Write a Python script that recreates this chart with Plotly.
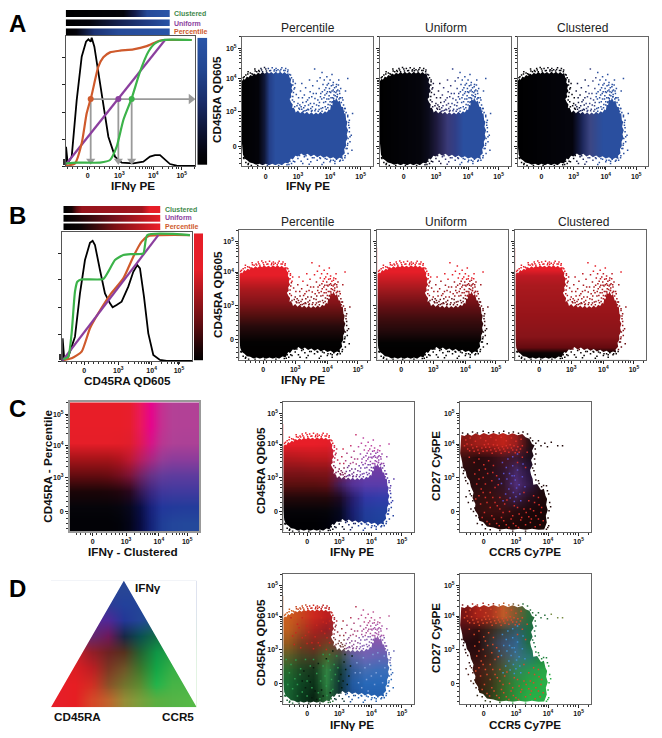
import base64, struct, zlib
import plotly.graph_objects as go

W, H = 662, 738
FONT = "Liberation Sans"

# ---------------- axis scale (biexponential display units) ----------------
TICK_TEXT = ["<b>0</b>", "<b>10<sup>3</sup></b>", "<b>10<sup>4</sup></b>", "<b>10<sup>5</sup></b>"]
SCAT_X_TICKS = [2.0, 3.0, 4.0, 4.95]
SCAT_Y_TICKS = [1.97, 3.0, 4.0, 4.9]
SCAT_X_RANGE = [1.26, 5.32]
SCAT_Y_RANGE = [1.37, 5.25]
MINOR_VALUES = [1.45, 1.6, 1.75, 1.9, 2.1, 2.25, 2.4, 2.55, 2.7, 2.8, 2.9,
                3.3, 3.48, 3.6, 3.7, 3.78, 3.85, 3.9, 3.95,
                4.3, 4.48, 4.6, 4.7, 4.78, 4.85, 5.25]

# ---------------- tone curves, panel A ----------------
A_PCT_X = [1.39, 1.67, 1.87, 2.02, 2.17, 2.37, 2.52, 2.72, 3.02, 3.42, 3.82, 4.12, 4.32, 5.17]
A_PCT_Y = [0, 2, 17.4, 40.4, 54.5, 76.2, 83.4, 87.2, 88.5, 89.5, 92, 95.4, 96.7, 96.7]
A_UNI_X = [1.39, 4.37]
A_UNI_Y = [1, 96.7]
A_CLU_X = [1.39, 1.72, 2.42, 2.72, 2.92, 3.12, 3.37, 3.62, 3.87, 4.07, 4.32, 5.17]
A_CLU_Y = [2, 2.6, 2.6, 4.6, 14.8, 35.3, 51.9, 72.4, 87.7, 94.1, 96.7, 96.7]
A_HIST_X = [1.39, 1.40, 1.45, 1.57, 1.72, 1.87, 2.0, 2.07, 2.14, 2.17, 2.25, 2.37, 2.52, 2.67,
            2.87, 3.07, 3.42, 3.72, 3.92, 4.07, 4.22, 4.37, 4.52, 4.72, 5.27]
A_HIST_Y = [0.8, 14.8, 2, 7.2, 50.6, 83.9, 95.4, 97.2, 95.4, 98.5, 91.6, 72.4, 45.5, 22.5,
            7.2, 2.6, 2, 3.3, 7.2, 8.4, 8.4, 4.6, 1.5, 0.3, 0]
A_GUIDE_X = [2.14, 2.97, 3.37]
A_GUIDE_Y = 51.4
A_GUIDE_COLORS = ["#cf5a2c", "#8b3f9e", "#3cb34a"]

# ---------------- tone curves, panel B ----------------
B_PCT_X = [1.35, 1.6, 1.9, 2.15, 2.4, 2.75, 3.15, 3.45, 3.7, 3.9, 5.15]
B_PCT_Y = [0.8, 2.1, 7.2, 25.3, 36.9, 51, 63.9, 80.7, 92.3, 96.6, 97.4]
B_UNI_X = [1.32, 4.2]
B_UNI_Y = [0, 97.4]
B_CLU_X = [1.35, 1.5, 1.6, 1.7, 1.77, 1.9, 2.55, 2.7, 2.9, 3.15, 3.4, 3.75, 3.87, 5.15]
B_CLU_Y = [1.3, 3.4, 21.4, 53.6, 61.3, 63.1, 63.4, 69.1, 78.1, 82, 82.7, 83.2, 97.4, 97.4]
B_HIST_X = [1.32, 1.33, 1.38, 1.5, 1.7, 1.85, 2.0, 2.15, 2.23, 2.3, 2.45, 2.6, 2.75, 2.83, 2.95,
            3.1, 3.3, 3.45, 3.57, 3.65, 3.77, 3.9, 4.05, 4.25, 4.45, 5.22]
B_HIST_Y = [0, 17.5, 0.8, 3.4, 18.8, 52.3, 78.1, 91.5, 93, 89.7, 70.4, 52.3, 44.6, 41.5, 43.3,
            45.9, 57.5, 69, 74.2, 71.6, 49.7, 21.4, 4.6, 0.8, 0, 0]

# ---------------- colour maps: (position, colour) ----------------
BLUE = "#2a4f9f"
A_MAP_PCT = [(1.2, "#000000"), (1.75, "#03030a"), (1.95, "#10183a"), (2.1, "#243f88"), (2.3, BLUE), (4.58, BLUE), (4.6, BLUE)]
A_MAP_UNI = [(1.2, "#000000"), (2.5, "#05050c"), (2.75, "#0c0c1c"), (3.0, "#1e1a3e"), (3.33, "#3a3a78"),
             (3.6, "#303f88"), (3.85, BLUE), (4.58, BLUE), (4.6, BLUE)]
A_MAP_CLU = [(1.2, "#000000"), (2.95, "#04040c"), (3.15, "#141a40"), (3.28, "#202a60"), (3.49, "#3c4684"),
             (3.9, BLUE), (4.58, BLUE), (4.6, BLUE)]
RED = "#e61e28"
B_MAP_PCT = [(1.4, "#000000"), (1.42, "#000000"), (1.9, "#030202"), (2.38, "#280a0c"), (2.68, "#500f0f"), (3.08, "#821419"),
             (3.5, "#aa191e"), (3.93, RED), (4.5, RED)]
B_MAP_UNI = [(1.4, "#000000"), (1.42, "#000000"), (1.9, "#030202"), (2.18, "#1e080a"), (2.58, "#3c0c0e"), (2.98, "#640f14"),
             (3.48, "#a0191e"), (4.03, RED), (4.5, RED)]
B_MAP_CLU = [(1.4, "#000000"), (1.42, "#000000"), (1.58, "#0c0404"), (1.73, "#640a0f"), (2.08, "#871419"), (2.68, "#961419"),
             (3.6, "#aa191e"), (3.9, "#be1923"), (4.08, RED), (4.5, RED)]

STRIP_A_CLU = [(0, "#000000"), (0.55, "#04040a"), (0.66, "#141c4c"), (0.78, "#264a98"), (1, "#2a55a8")]
STRIP_A_UNI = [(0, "#000000"), (0.22, "#04040c"), (0.5, "#14204e"), (0.75, "#203a80"), (1, "#2a55a8")]
STRIP_A_PCT = [(0, "#000000"), (0.1, "#04040c"), (0.27, "#1c3272"), (0.5, "#264a98"), (1, "#2a55a8")]
STRIP_B_CLU = [(0, "#000000"), (0.08, "#140404"), (0.13, "#640e12"), (0.18, "#96141c"), (0.8, "#a0161e"), (0.88, "#e61e28"), (1, "#e61e28")]
STRIP_B_UNI = [(0, "#000000"), (0.1, "#100404"), (0.5, "#70101a"), (0.8, "#b81820"), (1, "#e61e28")]
STRIP_B_PCT = [(0, "#000000"), (0.17, "#0c0404"), (0.34, "#3c0a0c"), (0.51, "#781014"), (0.72, "#aa161c"), (0.96, "#e61e28"), (1, "#e61e28")]
BAR_A = [(0, "#000000"), (0.1, "#04040c"), (0.25, "#0c1230"), (0.5, "#192c68"), (0.75, "#234690"), (1, "#2a55a8")]
BAR_B = [(0, "#000000"), (0.1, "#1a0405"), (0.3, "#640e12"), (0.5, "#a0161c"), (0.72, "#e61e28"), (1, "#e61e28")]

# ---------------- 2-D colour fields (rows top to bottom) ----------------
HEAT_C = [
 "232,30,40 232,30,40 232,30,40 232,30,40 232,30,40 232,30,45 235,25,90 230,5,140 195,50,145 180,65,150 178,65,150 178,65,150",
 "232,30,40 232,30,40 232,30,40 232,30,40 232,30,40 232,30,45 235,25,90 230,5,140 195,50,145 180,65,150 178,65,150 178,65,150",
 "230,30,40 230,30,40 230,30,40 230,30,40 228,30,40 225,30,45 225,25,85 215,20,135 185,55,145 175,65,150 172,65,150 172,65,150",
 "165,20,25 165,20,25 165,20,25 165,20,25 175,20,30 190,25,50 185,30,95 170,40,130 150,60,150 140,60,155 140,60,155 140,60,155",
 "100,12,16 100,12,16 100,12,16 105,12,18 115,15,30 125,20,55 115,35,100 105,50,135 100,60,155 95,60,158 95,60,158 95,60,158",
 "28,6,8 28,6,8 28,6,8 30,6,10 35,6,14 42,8,30 55,25,85 60,40,130 65,55,155 65,58,158 65,58,158 65,58,158",
 "6,5,10 6,5,10 6,5,10 6,5,10 7,6,15 8,8,30 10,15,70 25,35,125 35,55,155 35,58,155 35,60,155 35,60,155",
 "2,2,6 2,2,6 2,2,6 2,2,6 2,3,10 4,5,25 8,12,65 20,35,120 32,62,150 35,70,155 35,72,155 35,72,155",
]
TRI_D = [
 "40,70,150 40,70,150 40,70,150 40,70,150 40,70,150 40,70,150 40,70,150 40,70,150 40,70,150",
 "40,60,150 40,60,150 40,60,150 45,60,150 35,65,155 35,68,152 35,70,150 35,70,150 35,70,150",
 "90,40,150 90,40,150 85,42,150 80,40,150 35,55,150 35,70,150 30,85,130 30,90,120 30,90,120",
 "120,30,100 110,35,110 100,40,110 110,25,90 25,40,70 10,80,80 20,110,70 25,120,70 25,120,70",
 "200,35,45 200,35,45 150,30,40 110,35,35 85,50,30 35,100,50 15,150,70 40,160,70 50,165,70",
 "225,30,35 220,30,35 190,30,35 125,55,35 110,85,40 60,120,45 20,165,70 55,175,70 65,178,70",
 "230,30,40 230,30,35 210,45,35 140,80,40 115,115,45 90,140,50 35,180,75 70,180,70 75,180,70",
 "230,30,40 230,30,35 215,70,40 190,100,45 150,140,55 120,160,60 90,175,65 85,180,70 85,185,70",
]
C_IFN = [
 "235,30,40 235,30,40 235,30,40 235,30,40 212,40,70 200,50,110 190,70,160 190,70,160 190,70,160",
 "232,30,40 232,30,40 232,30,40 228,30,40 210,40,70 200,50,110 190,70,160 190,70,160 190,70,160",
 "180,25,30 185,25,30 190,25,30 190,25,30 190,40,80 170,60,130 150,70,170 150,70,170 150,70,170",
 "130,20,25 130,20,25 135,20,25 135,20,25 130,30,80 110,50,140 110,60,165 110,60,165 110,60,165",
 "90,15,15 90,15,15 90,15,15 95,15,20 70,30,90 85,50,150 90,60,170 90,60,170 90,60,170",
 "35,8,10 35,8,10 35,8,10 35,8,10 30,10,35 40,30,110 50,55,165 50,60,170 50,60,170",
 "6,4,8 6,4,8 6,4,8 6,5,10 6,8,30 25,30,110 35,60,155 35,65,160 35,65,160",
 "0,0,3 0,0,3 0,0,3 0,0,8 3,5,30 20,30,100 30,60,150 30,65,155 30,65,155",
]
C_CCR = [
 "130,25,20 160,30,25 170,30,25 190,35,25 150,30,30 40,15,20 30,10,12 30,10,12 30,10,12",
 "130,25,20 160,30,25 170,30,25 190,35,25 150,30,30 40,15,20 30,10,12 30,10,12 30,10,12",
 "60,15,15 40,10,12 50,12,18 70,20,30 60,25,50 30,15,30 30,10,12 30,10,12 30,10,12",
 "40,12,14 40,12,14 40,14,20 50,20,45 70,40,100 40,20,60 30,10,14 30,10,12 30,10,12",
 "40,12,14 40,12,14 45,14,20 50,20,40 80,45,120 50,25,70 30,10,15 30,10,12 30,10,12",
 "50,15,15 50,15,15 55,15,15 60,20,30 60,30,70 40,15,30 30,8,10 30,8,10 30,8,10",
 "50,15,15 50,15,15 60,15,15 60,15,18 40,12,15 30,8,10 25,6,8 25,6,8 25,6,8",
 "35,10,10 35,10,10 35,10,10 30,8,8 30,8,8 25,7,7 25,7,7 25,7,7 25,7,7",
]
D_IFN = [
 "205,95,30 200,70,30 205,40,30 190,30,30 170,40,50 180,50,80 190,80,140 190,90,150 190,90,150",
 "205,95,30 200,70,30 205,40,30 190,30,30 170,40,50 180,50,80 190,80,140 190,90,150 190,90,150",
 "190,95,30 170,65,30 170,35,30 150,30,35 150,50,60 170,70,120 170,80,150 170,90,170 170,90,170",
 "150,90,30 120,60,30 130,40,30 120,60,35 120,60,60 140,80,150 130,90,175 130,90,175 130,90,175",
 "90,95,40 70,70,35 70,60,35 70,100,45 60,80,60 90,100,160 110,100,180 100,100,180 100,100,180",
 "40,105,45 30,70,35 25,55,30 50,130,65 20,60,50 50,90,150 70,110,180 60,110,185 60,110,185",
 "25,105,50 15,70,35 12,50,25 45,130,65 15,50,50 35,90,160 40,105,185 40,105,185 40,105,185",
 "25,100,50 12,60,30 8,35,18 40,110,55 15,50,50 30,80,150 35,95,175 35,95,175 35,95,175",
]
D_CCR = [
 "120,20,20 170,35,25 170,50,30 190,90,40 120,90,50 40,110,60 40,110,60 120,140,70 120,140,70",
 "120,20,20 170,35,25 170,50,30 190,90,40 120,90,50 40,110,60 40,110,60 120,140,70 120,140,70",
 "70,15,20 50,15,15 60,40,30 60,70,60 50,90,100 30,110,70 30,110,70 30,110,70 30,110,70",
 "40,10,15 35,10,12 55,50,50 60,80,110 50,100,140 30,110,70 30,120,70 30,120,70 30,120,70",
 "50,15,15 50,15,15 60,40,30 70,80,80 60,110,130 40,120,110 30,130,60 30,130,60 30,130,60",
 "70,25,20 70,25,20 70,50,30 70,90,50 50,130,90 40,150,80 40,165,70 40,170,70 40,170,70",
 "60,25,15 60,25,15 60,50,25 60,100,40 45,140,60 40,165,65 40,175,70 40,175,70 40,175,70",
 "40,30,15 40,30,15 50,60,25 50,110,40 40,150,60 40,175,70 40,175,70 40,175,70 40,175,70",
]

# ---------------- population outlines ----------------
IFN_OUTLINE = [
 (1.26,3.92),(1.31,3.99),(1.35,3.96),(1.41,4.06),(1.46,4.03),(1.52,4.1),(1.58,4.07),(1.64,4.15),(1.7,4.11),(1.76,4.17),
 (1.83,4.13),(1.9,4.19),(1.97,4.14),(2.03,4.2),(2.1,4.15),(2.17,4.19),(2.24,4.14),(2.31,4.2),(2.38,4.15),(2.45,4.2),
 (2.52,4.14),(2.58,4.19),(2.65,4.13),(2.7,4.16),(2.74,4.03),(2.79,3.98),(2.77,3.88),(2.83,3.8),(2.8,3.7),(2.84,3.62),
 (2.78,3.54),(2.8,3.44),(2.74,3.38),(2.79,3.28),(2.84,3.22),(2.82,3.12),(2.9,3.08),(2.93,2.98),(3.0,3.04),(3.07,2.96),
 (3.14,3.02),(3.21,2.94),(3.28,3.0),(3.35,2.93),(3.42,2.99),(3.49,2.92),(3.56,2.98),(3.63,2.93),(3.7,3.0),(3.77,2.94),
 (3.84,3.02),(3.9,2.98),(3.96,3.08),(4.0,3.05),(4.03,3.2),(4.07,3.18),(4.1,3.38),(4.16,3.34),(4.19,3.42),(4.25,3.3),
 (4.3,3.34),(4.35,3.15),(4.4,3.14),(4.44,2.95),(4.48,2.96),(4.5,2.75),(4.54,2.7),(4.51,2.55),(4.56,2.45),(4.52,2.33),
 (4.55,2.22),(4.49,2.1),(4.5,1.98),(4.44,1.88),(4.46,1.76),(4.38,1.68),(4.4,1.58),(4.3,1.62),(4.2,1.57),(4.1,1.64),
 (4.0,1.6),(3.9,1.67),(3.8,1.62),(3.7,1.69),(3.6,1.64),(3.5,1.71),(3.4,1.66),(3.3,1.74),(3.2,1.68),(3.1,1.75),
 (3.0,1.66),(2.92,1.68),(2.84,1.57),(2.78,1.6),(2.7,1.45),(2.6,1.47),(2.5,1.4),(2.4,1.44),(2.3,1.4),(2.2,1.44),
 (2.1,1.4),(2.0,1.44),(1.9,1.4),(1.8,1.44),(1.7,1.41),(1.6,1.46),(1.5,1.48),(1.42,1.55),(1.34,1.6),(1.29,1.72),(1.26,2.05)]
CCR_OUTLINE = [
 (1.27,3.72),(1.28,3.95),(1.3,4.27),(1.4,4.24),(1.5,4.3),(1.62,4.25),(1.75,4.32),(1.87,4.26),(2.0,4.33),(2.15,4.27),
 (2.3,4.33),(2.45,4.28),(2.6,4.33),(2.75,4.27),(2.9,4.32),(3.05,4.26),(3.2,4.3),(3.3,4.2),(3.42,4.16),(3.5,4.0),
 (3.58,3.96),(3.5,3.8),(3.55,3.65),(3.47,3.52),(3.52,3.38),(3.44,3.22),(3.47,3.08),(3.52,2.96),(3.54,2.78),(3.66,2.8),
 (3.78,2.62),(3.87,2.66),(3.92,2.45),(3.97,2.35),(3.94,2.18),(3.99,2.02),(3.93,1.85),(3.96,1.65),(3.88,1.44),(3.7,1.43),
 (3.5,1.46),(3.3,1.43),(3.1,1.46),(2.9,1.43),(2.7,1.46),(2.5,1.44),(2.3,1.5),(2.1,1.53),(1.98,1.66),(1.86,1.7),
 (1.82,1.88),(1.72,2.02),(1.74,2.2),(1.65,2.38),(1.68,2.55),(1.6,2.72),(1.56,2.9),(1.47,3.02),(1.44,3.18),(1.35,3.3),(1.33,3.45)]
TRI_OUTLINE = [(0, 0), (0.5, 1), (1, 0)]

# ---------------- individually visible events ----------------
IFN_EVENTS = [
 (2.85,3.95),(2.9,3.72),(2.95,3.52),(2.88,3.3),(2.97,3.18),(3.02,3.42),(3.05,3.08),(3.08,3.62),(3.12,3.85),(3.15,3.28),
 (3.18,3.12),(3.2,3.5),(3.24,3.72),(3.27,3.05),(3.3,3.35),(3.33,3.2),(3.36,3.95),(3.38,3.6),(3.4,3.1),(3.43,3.45),
 (3.46,3.78),(3.5,3.25),(3.52,4.28),(3.55,3.08),(3.57,3.55),(3.6,3.92),(3.62,3.35),(3.65,3.18),(3.66,3.7),(3.69,4.02),
 (3.7,3.45),(3.72,3.1),(3.75,4.18),(3.76,3.6),(3.78,3.82),(3.8,3.28),(3.82,3.95),(3.84,3.5),(3.85,3.15),(3.87,3.72),
 (3.9,4.05),(3.9,3.38),(3.92,3.6),(3.94,3.22),(3.95,3.85),(3.97,3.48),(3.98,3.7),(4.0,3.95),(4.0,3.3),(4.02,3.58),
 (4.04,3.78),(4.05,3.18),(4.06,4.12),(4.08,3.42),(4.1,3.65),(4.1,3.88),(4.12,3.5),(4.14,3.72),(4.15,3.3),(4.18,3.58),
 (4.2,3.82),(4.22,3.45),(4.24,3.65),(4.27,3.95),(4.28,3.38),(4.3,3.55),(4.33,3.7),(4.38,3.42),(4.42,3.2),(4.48,3.62),
 (4.55,4.0),(2.86,3.1),(2.92,3.85),(3.0,3.25),(3.06,3.2),(3.1,3.15),(3.14,3.42),(3.17,3.02),(3.22,3.18),(3.26,3.3),
 (3.31,3.08),(3.35,3.42),(3.39,3.25),(3.42,3.02),(3.45,3.15),(3.48,3.55),(3.53,3.4),(3.58,3.2),(3.63,3.02),(3.67,3.28),
 (3.71,3.55),(3.74,3.38),(3.77,3.12),(3.81,3.42),(3.83,3.65),(3.86,3.3),(3.89,3.55),(3.91,3.8),(3.93,3.12),(3.96,3.38),
 (3.99,3.6),(4.03,3.42),(4.06,3.62),(4.07,3.3),(4.09,3.8),(4.11,3.4),(4.13,3.6),(4.16,3.48),(4.19,3.75),(4.21,3.62),
 (4.23,3.52),(4.26,3.8),(4.29,3.62),(4.31,3.42),(4.35,3.28),(4.37,3.12),(4.4,3.35),(4.43,3.02),(4.47,3.1),(4.5,2.98),
 (1.3,4.02),(1.38,4.1),(1.45,4.2),(1.52,4.16),(1.6,4.12),(1.66,4.28),(1.72,4.2),(1.78,4.24),(1.85,4.3),(1.9,4.2),
 (1.96,4.33),(2.02,4.22),(2.08,4.3),(2.15,4.24),(2.2,4.32),(2.26,4.22),(2.32,4.3),(2.38,4.26),(2.44,4.22),(2.5,4.32),
 (2.56,4.24),(2.62,4.3),(2.68,4.2),(2.74,4.12),(2.8,4.02),(2.84,3.8),(2.86,3.58),
 (4.55,2.9),(4.58,2.6),(4.6,2.4),(4.56,2.2),(4.62,2.1),(4.54,2.0),(4.5,1.9),(4.56,1.75),(4.46,1.62),(4.6,2.75),
 (4.66,2.3),(4.68,1.85),(4.7,2.95),
 (4.4,1.55),(4.3,1.52),(4.2,1.58),(4.1,1.55),(4.0,1.5),(3.9,1.58),(3.8,1.48),(3.7,1.6),(3.6,1.55),(3.5,1.62),(3.4,1.5),
 (3.3,1.58),(3.2,1.65),(3.1,1.52),(3.0,1.6),(2.9,1.5),(2.8,1.45),(2.75,1.52),(2.72,1.42),(3.15,1.45),(3.35,1.43),(3.75,1.42),
 (4.15,1.45),(1.32,1.6),(1.38,1.48),(1.45,1.42),(1.55,1.39),
 (1.33,4.05),(1.44,4.13),(1.57,4.14),(1.67,4.22),(1.8,4.21),(1.87,4.25),(2.0,4.28),(2.12,4.23),(2.27,4.26),(2.33,4.23),
 (2.47,4.27),(2.6,4.24),(2.69,4.25),(2.77,4.1),(2.85,3.9),(2.88,3.68),(2.84,3.46),(2.83,3.35),(2.9,3.15),(3.03,3.11),
 (3.12,3.08),(3.22,3.03),(3.33,3.06),(3.44,3.04),(3.53,3.03),(3.66,3.07),(3.75,3.02),(3.88,3.08),(4.0,3.2),(4.06,3.28),
 (4.22,3.45),(4.32,3.42),(4.45,3.1),(4.55,2.85),(4.58,2.68),(4.6,2.52),(4.62,2.25),(4.55,2.05),(4.53,1.9),(4.47,1.68),
 (4.32,1.55),(4.15,1.52),(4.02,1.55),(3.85,1.6),(3.68,1.62),(3.45,1.62),(3.25,1.68),(3.05,1.69),(2.86,1.52),(2.66,1.41),
 (2.4,1.39),(2.05,1.39),(1.75,1.39),(1.46,1.45),(1.31,1.62),
]
IFN_RED = [
 (1.5,3.95),(1.7,3.75),(1.85,3.95),(2.0,3.7),(2.15,3.9),(2.3,3.72),(2.45,3.95),(2.6,3.78),(1.65,3.5),(1.85,3.35),
 (2.05,3.52),(2.25,3.38),(2.45,3.55),(2.62,3.35),(1.6,3.15),(1.8,3.05),(2.0,3.18),(2.2,3.02),(2.4,3.12),(2.6,3.0),
 (2.7,3.2),(2.5,3.82),(2.7,3.62),(2.35,3.2),(2.15,3.2),(1.95,3.42),(1.75,3.65),(1.55,3.4),(2.7,3.85),(2.55,3.48),
]
IFN_GREEN = [
 (1.35,2.7),(1.5,2.55),(1.65,2.68),(1.8,2.42),(1.45,2.3),(1.62,2.12),(1.78,2.25),(1.4,1.95),(1.55,1.82),(1.7,1.95),
 (1.85,1.72),(2.0,2.05),(2.15,1.85),(2.3,2.28),(2.42,2.05),(2.5,2.5),(2.56,2.2),(2.6,1.9),(2.66,2.65),(2.72,2.38),
 (2.76,2.1),(2.8,1.8),(2.84,2.55),(2.88,2.25),(2.92,2.8),(2.96,2.45),(2.98,2.05),(2.7,2.85),(2.5,2.85),(2.35,1.7),
 (2.62,1.62),(2.1,2.5),(2.2,2.7),(1.95,2.7),(2.0,1.6),(1.7,1.6),(2.4,1.52),(2.75,1.75),
]
IFN_DARK = [
 (1.9,2.35),(2.05,2.2),(2.2,2.45),(2.35,2.58),(1.85,2.05),(2.1,2.02),(2.25,1.75),(2.45,1.78),(1.95,1.85),(2.15,1.55),
 (3.05,2.25),(3.12,2.05),(3.2,2.4),(3.25,1.95),(3.3,2.2),(3.08,1.85),(3.15,2.62),(3.35,2.5),(3.18,2.85),(3.4,2.8),
 (2.72,1.7),(2.5,1.6),(2.3,1.5),(2.6,2.72),(2.8,2.95),
]
IFN_PALE = [
 (3.55,2.6),(3.65,2.3),(3.75,2.75),(3.85,2.1),(3.95,2.55),(4.05,2.85),(4.15,2.3),(4.25,2.65),(4.35,2.0),(4.42,2.45),
 (3.6,2.0),(3.7,1.85),(3.8,2.45),(3.9,1.75),(4.0,2.2),(4.1,1.95),(4.2,2.9),(4.3,2.2),(4.4,2.8),(3.5,2.3),
]
CCR_EVENTS = [
 (3.62,4.02),(3.7,4.1),(3.78,3.95),(3.9,4.02),(3.98,3.92),(4.1,4.05),(4.3,3.95),(4.45,3.95),(3.62,3.7),(3.6,3.4),
 (3.56,3.2),(3.62,2.92),(3.72,2.82),(3.8,2.72),(3.95,2.75),(4.02,2.5),(4.05,2.25),(4.03,2.0),(4.0,1.78),(4.02,1.55),
 (3.95,1.45),(3.3,1.39),(2.9,1.39),(2.5,1.41),(2.2,1.43),(2.05,1.46),(1.95,1.58),(1.8,1.62),(1.76,1.85),(1.72,2.08),
 (1.6,2.05),(1.52,2.25),(1.62,2.45),(1.55,2.6),(1.5,2.82),(1.42,3.0),(1.38,3.2),(1.32,3.3),(1.45,2.42),(1.68,1.98),
 (1.34,4.33),(1.5,4.3),(1.65,4.36),(1.8,4.33),(1.98,4.38),(2.15,4.34),(2.3,4.37),(2.48,4.33),(2.62,4.38),(2.78,4.33),
 (2.92,4.36),(3.08,4.32),(3.22,4.36),(3.36,4.3),(3.45,4.18),(3.52,4.1),
 (3.6,3.85),(3.58,3.55),(3.52,3.28),(3.6,3.08),(3.7,2.9),(3.86,2.76),(3.98,2.6),(4.08,2.12),(3.99,1.5),(1.85,1.8),
 (1.66,2.3),(1.58,2.5),(1.44,2.9),(1.36,3.12),
]
CCR_RED = [
 (1.4,3.95),(1.5,3.85),(1.62,3.98),(1.7,3.78),(1.78,3.92),(1.86,3.72),(1.94,3.88),(2.02,3.98),(2.1,3.8),(2.18,3.9),
 (2.26,3.72),(2.34,3.86),(2.42,3.96),(2.5,3.82),(2.58,3.92),(2.66,3.78),(2.74,3.88),(2.82,3.98),(2.9,3.82),(2.98,3.74),
 (3.06,3.92),(3.14,3.85),(1.44,4.12),(1.58,4.18),(1.74,4.08),(1.9,4.18),(2.06,4.1),(2.22,4.2),(2.38,4.12),(2.54,4.2),
 (2.7,4.1),(2.86,4.18),(3.0,4.08),(3.16,4.14),(1.55,3.6),(1.7,3.45),(1.85,3.55),(2.0,3.38),(2.15,3.5),(2.3,3.36),
 (1.72,3.1),(1.86,3.22),(1.98,3.0),(2.12,3.12),(2.25,2.9),(2.4,3.05),(1.78,2.8),(1.92,2.65),(2.05,2.8),(2.2,2.55),
 (2.35,2.7),(2.5,2.4),(1.75,2.35),(1.9,2.2),(2.05,2.4),(2.2,2.1),(2.35,2.25),(2.5,2.05),(2.65,2.2),(2.8,1.98),
 (2.95,2.15),(3.1,1.9),(3.25,2.05),(3.4,1.82),(3.55,2.0),(3.7,1.75),(3.8,2.1),(1.95,1.8),(2.1,1.68),(2.25,1.85),
 (2.4,1.62),(2.55,1.8),(2.7,1.58),(2.85,1.75),(3.0,1.55),(3.15,1.72),(3.3,1.58),(3.45,1.65),(3.6,1.52),(3.75,1.58),
 (3.7,2.4),(3.55,2.45),(3.4,2.3),(3.25,2.55),(3.3,3.3),(3.2,3.6),(3.35,3.75),(3.05,3.45),
 (1.48,4.0),(1.56,3.8),(1.66,3.88),(1.82,3.82),(1.98,3.78),(2.06,3.9),(2.14,4.0),(2.22,3.82),(2.3,3.98),(2.38,3.78),
 (2.46,3.88),(2.54,3.72),(2.62,3.85),(2.7,3.95),(2.78,3.75),(2.86,3.88),(2.94,3.95),(3.02,3.82),(3.1,3.75),(3.2,3.95),
 (1.85,2.95),(2.05,3.25),(2.28,3.15),(2.45,2.78),(1.98,2.55),(1.85,2.45),(2.1,2.25),(2.28,2.4),(2.42,2.15),(2.6,1.95),
 (2.72,2.32),(2.9,1.85),(3.05,2.1),(3.18,1.8),(3.32,1.95),(3.48,1.75),(3.62,1.85),(3.78,1.95),(3.85,1.7),(3.72,2.18),
 (3.58,2.25),(3.45,2.05),(2.02,1.95),(2.18,1.6),(2.32,1.75),(2.48,1.55),(2.62,1.7),(2.78,1.5),(2.92,1.62),(3.08,1.5),
]
CCR_BLUE = [
 (2.7,3.3),(2.8,3.12),(2.9,3.35),(2.95,3.05),(3.05,3.22),(2.72,2.95),(2.85,2.82),(2.98,2.92),(3.1,2.78),(2.78,2.65),
 (2.92,2.55),(3.02,2.68),(3.12,2.5),(2.62,3.12),(2.55,2.82),(2.68,2.5),(2.82,2.38),(2.95,2.28),(3.2,3.02),(3.15,2.3),
 (2.58,3.45),(2.75,3.55),(2.9,3.62),(3.05,3.7),(3.22,3.4),(2.48,2.95),(2.6,2.3),(3.28,2.72),(2.88,3.05),(3.0,2.42),
]

# ---------------- labels ----------------
TITLES = ["Percentile", "Uniform", "Clustered"]
CURVE_COLORS = {"Clustered": "#3f8a4c", "Uniform": "#8b3f9e", "Percentile": "#cf5a2c"}
CURVE_LINES = {"Clustered": "#3cb34a", "Uniform": "#8b3f9e", "Percentile": "#cf5a2c"}

fig = go.Figure()
layout_axes = {}
images = []
annots = []
n_axes = 0


def parse(rows):
    return [[tuple(int(v) for v in cell.split(",")) for cell in row.split()] for row in rows]


def png_uri(cells):
    h, w = len(cells), len(cells[0])
    raw = b"".join(b"\x00" + bytes(v for px in row for v in px) for row in cells)
    def chunk(tag, data):
        return struct.pack(">I", len(data)) + tag + data + struct.pack(">I", zlib.crc32(tag + data) & 0xffffffff)
    png = b"\x89PNG\r\n\x1a\n" + chunk(b"IHDR", struct.pack(">IIBBBBB", w, h, 8, 2, 0, 0, 0)) + \
        chunk(b"IDAT", zlib.compress(raw)) + chunk(b"IEND", b"")
    return "data:image/png;base64," + base64.b64encode(png).decode()


def axes(x0, x1, y0, y1, xr, yr, xt=None, yt=None, ylabels=True, xlabels=True, frame="#666666", width=1, visible=True):
    global n_axes
    n_axes += 1
    i = n_axes
    def one(rng, ticks, labels, dom, anchor):
        ax = dict(domain=dom, range=rng, anchor=anchor, fixedrange=True, showgrid=False, zeroline=False,
                  visible=visible, showline=visible, mirror=visible, linecolor=frame, linewidth=width)
        if ticks is not None:
            ax.update(tickmode="array", tickvals=ticks, ticks="outside", ticklen=3, tickwidth=1, tickcolor="#222222",
                      minor=dict(tickmode="array", tickvals=MINOR_VALUES, ticks="outside", ticklen=2,
                                 tickwidth=0.7, tickcolor="#333333", showgrid=False))
            if labels:
                ax.update(ticktext=TICK_TEXT, tickfont=dict(family=FONT, size=7, color="#111111"))
            else:
                ax.update(showticklabels=False)
        else:
            ax.update(ticks="", showticklabels=False)
        return ax
    layout_axes[f"xaxis{i}"] = one(xr, xt, xlabels, [x0 / W, x1 / W], f"y{i}")
    layout_axes[f"yaxis{i}"] = one(yr, yt, ylabels, [1 - y1 / H, 1 - y0 / H], f"x{i}")
    return f"x{i}", f"y{i}"


def colorscale(stops):
    n = len(stops) - 1
    return [[k / n, s[1]] for k, s in enumerate(stops)]


def grad_x(xa, ya, stops, yr):
    idx = list(range(len(stops)))
    fig.add_trace(go.Heatmap(x=[s[0] for s in stops], y=yr, z=[idx, idx], colorscale=colorscale(stops), zmin=0,
                             zmax=len(stops) - 1, zsmooth="best", showscale=False, hoverinfo="skip", xaxis=xa, yaxis=ya))


def grad_y(xa, ya, stops, xr):
    fig.add_trace(go.Heatmap(y=[s[0] for s in stops], x=xr, z=[[k, k] for k in range(len(stops))],
                             colorscale=colorscale(stops), zmin=0, zmax=len(stops) - 1, zsmooth="best",
                             showscale=False, hoverinfo="skip", xaxis=xa, yaxis=ya))


def image(xa, ya, cells, xr, yr):
    images.append(dict(source=png_uri(cells), xref=xa, yref=ya, x=xr[0], y=yr[1], sizex=xr[1] - xr[0], sizey=yr[1] - yr[0],
                       xanchor="left", yanchor="top", sizing="stretch", layer="below"))


def mask(xa, ya, outline, xr, yr, clip=True):
    xs = [xr[0], xr[1], xr[1], xr[0], xr[0]] + [p[0] for p in outline] + [outline[0][0], xr[0]]
    ys = [yr[0], yr[0], yr[1], yr[1], yr[0]] + [p[1] for p in outline] + [outline[0][1], yr[0]]
    fig.add_trace(go.Scatter(x=xs, y=ys, mode="lines", fill="toself", fillcolor="#ffffff", line=dict(width=0), cliponaxis=clip,
                             hoverinfo="skip", showlegend=False, xaxis=xa, yaxis=ya))


def dots(xa, ya, pts, colors, size=1.5):
    fig.add_trace(go.Scatter(x=[p[0] for p in pts], y=[p[1] for p in pts], mode="markers", hoverinfo="skip", showlegend=False,
                             marker=dict(symbol="square", size=size, color=colors, line=dict(width=0)), xaxis=xa, yaxis=ya))


def rgbstr(c):
    return f"rgb({c[0]},{c[1]},{c[2]})"


def nearest_stop(stops, v):
    return min(stops, key=lambda s: abs(s[0] - v))[1]


GRID_X = [1.2, 4.8]
GRID_Y = [1.4, 4.6]
MASK_X = [1.1, 5.5]
MASK_Y = [1.2, 5.4]


def grid_color(cells, p):
    col = min(8, max(0, int((p[0] - GRID_X[0]) / 0.4)))
    row = min(7, max(0, int((GRID_Y[1] - p[1]) / 0.4)))
    return rgbstr(cells[row][col])


def text(px, py, s, size=11.7, color="#111111", bold=True, anchor="center", angle=0):
    annots.append(dict(xref="paper", yref="paper", x=px / W, y=1 - py / H, text=f"<b>{s}</b>" if bold else s, showarrow=False,
                       xanchor=anchor, yanchor="middle", textangle=angle, font=dict(family=FONT, size=size, color=color)))


def scatter_panel(x0, y0, w=130.5, h=129.5, labels=True):
    return axes(x0, x0 + w, y0, y0 + h, SCAT_X_RANGE, SCAT_Y_RANGE, SCAT_X_TICKS, SCAT_Y_TICKS, ylabels=labels)


def tone_panel(x0, x1, y0, y1, xr, xt, curves, hist, strips, strip_box, bar, bar_box, guides=False):
    xa, ya = axes(x0, x1, y0, y1, xr, [0, 100], xt, [0, 20.5, 41.4, 62.7, 83.4], ylabels=False, frame="#555555")
    fig.add_trace(go.Scatter(x=hist[0], y=hist[1], mode="lines", line=dict(color="#000000", width=1.8), hoverinfo="skip",
                             showlegend=False, xaxis=xa, yaxis=ya))
    if guides:
        gray = "#9a9a9a"
        fig.add_trace(go.Scatter(x=[A_GUIDE_X[0], xr[1] - 0.15], y=[A_GUIDE_Y, A_GUIDE_Y], mode="lines", line=dict(color=gray, width=1.8),
                                 hoverinfo="skip", showlegend=False, xaxis=xa, yaxis=ya))
        fig.add_trace(go.Scatter(x=[xr[1] - 0.12], y=[A_GUIDE_Y], mode="markers", marker=dict(symbol="triangle-right", size=9, color=gray),
                                 hoverinfo="skip", showlegend=False, xaxis=xa, yaxis=ya))
        for gx in A_GUIDE_X:
            fig.add_trace(go.Scatter(x=[gx, gx], y=[A_GUIDE_Y, 4], mode="lines", line=dict(color=gray, width=1.8),
                                     hoverinfo="skip", showlegend=False, xaxis=xa, yaxis=ya))
            fig.add_trace(go.Scatter(x=[gx], y=[4], mode="markers", marker=dict(symbol="triangle-down", size=8, color=gray),
                                     hoverinfo="skip", showlegend=False, xaxis=xa, yaxis=ya))
    for name, (cx, cy) in curves.items():
        fig.add_trace(go.Scatter(x=cx, y=cy, mode="lines", line=dict(color=CURVE_LINES[name], width=2.2, shape="spline", smoothing=0.5),
                                 hoverinfo="skip", showlegend=False, xaxis=xa, yaxis=ya))
    if guides:
        for gx, gc in zip(A_GUIDE_X, A_GUIDE_COLORS):
            fig.add_trace(go.Scatter(x=[gx], y=[A_GUIDE_Y], mode="markers", marker=dict(size=6, color=gc), hoverinfo="skip",
                                     showlegend=False, xaxis=xa, yaxis=ya))
    for stops, (sx0, sx1, sy0, sy1) in zip(strips, strip_box):
        sa, sb = axes(sx0, sx1, sy0, sy1, [0, 1], [0, 1], visible=False)
        grad_x(sa, sb, stops, [0, 1])
    ba, bb = axes(*bar_box, [0, 1], [0, 1], visible=False)
    grad_y(ba, bb, bar, [0, 1])


# ---------------- Row A ----------------
strip_a = [(65.7, 170, 10, 17.3), (65.7, 170, 19.3, 26), (65.7, 170, 28.3, 35)]
tone_panel(65.7, 195, 35.7, 166, [1.39, 5.27], [2.05, 3.0, 4.02, 4.87],
           {"Uniform": (A_UNI_X, A_UNI_Y), "Percentile": (A_PCT_X, A_PCT_Y), "Clustered": (A_CLU_X, A_CLU_Y)},
           (A_HIST_X, A_HIST_Y), [STRIP_A_CLU, STRIP_A_UNI, STRIP_A_PCT], strip_a, BAR_A, (197.3, 207.3, 37.7, 165), guides=True)
for name, py in zip(["Clustered", "Uniform", "Percentile"], [14, 23, 31.5]):
    text(172, py, name, 7, CURVE_COLORS[name], anchor="left")
for x0, stops, label, cx in zip([242, 380, 517.7], [A_MAP_PCT, A_MAP_UNI, A_MAP_CLU], TITLES, [308, 446, 582]):
    xa, ya = scatter_panel(x0, 36.7, labels=(x0 == 242))
    grad_x(xa, ya, stops, [2.2, 3.8])
    mask(xa, ya, IFN_OUTLINE, MASK_X, MASK_Y)
    dots(xa, ya, IFN_EVENTS, [nearest_stop(stops, p[0]) for p in IFN_EVENTS])
    text(cx, 28, label, 12, "#222222", bold=False)
text(217, 100, "CD45RA QD605", angle=-90)
text(308, 186, "IFNγ PE")
text(133, 186, "IFNγ PE")

# ---------------- Row B ----------------
strip_b = [(63.3, 160.7, 206, 213.3), (63.3, 160.7, 214.7, 222), (63.3, 160.7, 223.3, 230)]
tone_panel(62.3, 192.3, 231.7, 361, [1.32, 5.22], [1.98, 3.0, 4.0, 4.82],
           {"Percentile": (B_PCT_X, B_PCT_Y), "Uniform": (B_UNI_X, B_UNI_Y), "Clustered": (B_CLU_X, B_CLU_Y)},
           (B_HIST_X, B_HIST_Y), [STRIP_B_CLU, STRIP_B_UNI, STRIP_B_PCT], strip_b, BAR_B, (194, 203.3, 233.3, 360.7))
for name, py in zip(["Clustered", "Uniform", "Percentile"], [209.5, 218, 226.5]):
    text(163, py, name, 7, CURVE_COLORS[name], anchor="left")
for x0, stops, label, cx in zip([239.3, 377.3, 515.3], [B_MAP_PCT, B_MAP_UNI, B_MAP_CLU], TITLES, [308, 446, 583]):
    xa, ya = scatter_panel(x0, 230.3, labels=(x0 == 239.3))
    grad_y(xa, ya, stops, [2.1, 3.9])
    mask(xa, ya, IFN_OUTLINE, MASK_X, MASK_Y)
    dots(xa, ya, IFN_EVENTS, [nearest_stop(stops, p[1]) for p in IFN_EVENTS])
    text(cx, 222, label, 12, "#222222", bold=False)
text(217, 295, "CD45RA QD605", angle=-90)
text(303, 379, "IFNγ PE")
text(127, 380, "CD45RA QD605")

# ---------------- Row C ----------------
xa, ya = axes(70, 199.3, 402.3, 531, SCAT_X_RANGE, SCAT_Y_RANGE, [1.97, 3.02, 4.05, 4.94], [1.95, 2.99, 3.96, 4.87],
              frame="#999999", width=2)
image(xa, ya, parse(HEAT_C), SCAT_X_RANGE, SCAT_Y_RANGE)
text(46.7, 466, "CD45RA - Percentile", angle=-90)
text(133, 551, "IFNγ - Clustered")

CELL_C1, CELL_C2, CELL_D1, CELL_D2 = parse(C_IFN), parse(C_CCR), parse(D_IFN), parse(D_CCR)
SPECK_COLORS = {"C": ("#d8302a", "#5a50c8"), "D": ("#d84a2a", "#3f8fd0")}


def gated(x0, y0, cells_ifn, cells_ccr, key):
    xa, ya = scatter_panel(x0, y0)
    image(xa, ya, cells_ifn, GRID_X, GRID_Y)
    mask(xa, ya, IFN_OUTLINE, MASK_X, MASK_Y)
    dots(xa, ya, IFN_EVENTS, [grid_color(cells_ifn, p) for p in IFN_EVENTS])
    if key == "D":
        dots(xa, ya, IFN_RED, "#c8281e")
        dots(xa, ya, IFN_GREEN, "#2f9a50")
        dots(xa, ya, IFN_DARK, "#071a0e")
        dots(xa, ya, IFN_PALE, "#7fa0d8")
    xa, ya = scatter_panel(x0 + 176.7, y0)
    image(xa, ya, cells_ccr, GRID_X, GRID_Y)
    mask(xa, ya, CCR_OUTLINE, MASK_X, MASK_Y)
    dots(xa, ya, CCR_EVENTS, [grid_color(cells_ccr, p) if key == "D" else "#200808" for p in CCR_EVENTS])
    dots(xa, ya, CCR_RED, SPECK_COLORS[key][0])
    dots(xa, ya, CCR_BLUE, SPECK_COLORS[key][1])


gated(283.3, 402.3, CELL_C1, CELL_C2, "C")
text(260, 471, "CD45RA QD605", angle=-90)
text(435, 466, "CD27 Cy5PE", angle=-90)
text(351.7, 551, "IFNγ PE")
text(525, 551, "CCR5 Cy7PE")

# ---------------- Row D ----------------
xa, ya = axes(51, 196.7, 580.7, 707.3, [0, 1], [0, 1], visible=False)
image(xa, ya, parse(TRI_D), [0, 1], [0, 1])
mask(xa, ya, TRI_OUTLINE, [-0.03, 1.03], [-0.03, 1.03], clip=False)
gated(283.3, 574.3, CELL_D1, CELL_D2, "D")
text(132.5, 587.7, "IFNγ", anchor="left")
text(51.7, 716, "CD45RA", anchor="left")
text(196.3, 716, "CCR5", anchor="right")
text(260, 643, "CD45RA QD605", angle=-90)
text(435, 638, "CD27 Cy5PE", angle=-90)
text(351.7, 724, "IFNγ PE")
text(525, 724, "CCR5 Cy7PE")

for letter, px, py in [("A", 17, 24), ("B", 17.7, 215.7), ("C", 17.3, 408), ("D", 17.3, 588)]:
    text(px, py, letter, 24, "#000000")

fig.update_layout(width=W, height=H, margin=dict(l=0, r=0, t=0, b=0), autosize=False, paper_bgcolor="#ffffff",
                  plot_bgcolor="rgba(0,0,0,0)", showlegend=False, images=images, annotations=annots,
                  font=dict(family=FONT), **layout_axes)
fig.write_html("out.html", include_plotlyjs=True, config={"displayModeBar": False},
               post_script="document.body.style.margin='0';document.body.style.overflow='hidden';")
